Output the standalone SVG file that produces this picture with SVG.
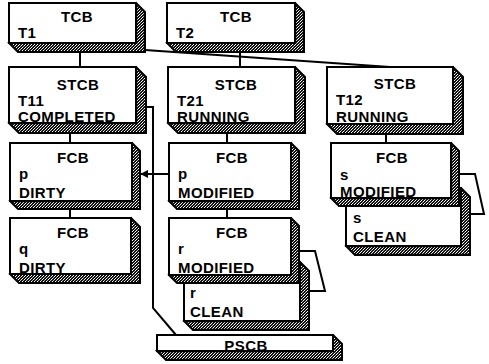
<svg xmlns="http://www.w3.org/2000/svg" width="489" height="364" viewBox="0 0 489 364">
<style>
.face{fill:#fff;stroke:#000;stroke-width:2}
.shade{fill:url(#dots);stroke:#000;stroke-width:2;stroke-linejoin:miter}
text{font-family:"Liberation Sans",Arial,sans-serif;font-weight:bold;font-size:15px;letter-spacing:0.4px;fill:#000}
.t{text-anchor:middle}
.c{fill:none;stroke:#000;stroke-width:2}
</style>
<defs>
<pattern id="dots" width="3" height="3" patternUnits="userSpaceOnUse">
<rect width="3" height="3" fill="#111"/>
<rect x="0" y="0" width="1" height="1" fill="#fff"/>
<rect x="2" y="1" width="1" height="1" fill="#bbb"/>
<rect x="1" y="2" width="1" height="1" fill="#fff"/>
</pattern>
<marker id="ah" viewBox="0 0 10 10" refX="9" refY="5" markerWidth="4" markerHeight="4" orient="auto" markerUnits="strokeWidth">
<path d="M0,0 L10,5 L0,10 z" fill="#000"/>
</marker>
</defs>

<g id="tcb-t1">
<polygon class="shade" points="136,3 145,12 145,52 18,52 9,43"/>
<rect class="face" x="9" y="3" width="127" height="40"/>
<text class="t" x="77" y="22">TCB</text>
<text x="18" y="38">T1</text>
</g>
<g id="tcb-t2">
<polygon class="shade" points="295,3 304,12 304,52 176,52 167,43"/>
<rect class="face" x="167" y="3" width="128" height="40"/>
<text class="t" x="236" y="22">TCB</text>
<text x="176" y="38">T2</text>
</g>
<g id="stcb-t11">
<polygon class="shade" points="136,67 146,77 146,133 19,133 9,123"/>
<rect class="face" x="9" y="67" width="127" height="56"/>
<text class="t" x="78" y="90">STCB</text>
<text x="18" y="106">T11</text>
<text x="18" y="122">COMPLETED</text>
</g>
<g id="stcb-t21">
<polygon class="shade" points="295,67 305,77 305,133 178,133 168,123"/>
<rect class="face" x="168" y="67" width="127" height="56"/>
<text class="t" x="236" y="90">STCB</text>
<text x="177" y="106">T21</text>
<text x="177" y="122">RUNNING</text>
</g>
<g id="stcb-t12">
<polygon class="shade" points="453,67 463,77 463,134 337,134 327,124"/>
<rect class="face" x="327" y="67" width="126" height="57"/>
<text class="t" x="395" y="89">STCB</text>
<text x="336" y="105">T12</text>
<text x="336" y="122">RUNNING</text>
</g>
<g id="fcb-p-dirty">
<polygon class="shade" points="132,143 140,151 140,209 18,209 10,201"/>
<rect class="face" x="10" y="143" width="122" height="58"/>
<text class="t" x="73" y="163">FCB</text>
<text x="19" y="179">p</text>
<text x="19" y="198">DIRTY</text>
</g>
<g id="fcb-p-modified">
<polygon class="shade" points="291,143 299,151 299,209 177,209 169,201"/>
<rect class="face" x="169" y="143" width="122" height="58"/>
<text class="t" x="232" y="163">FCB</text>
<text x="178" y="179">p</text>
<text x="178" y="198">MODIFIED</text>
</g>
<g id="s-clean">
<polygon class="shade" points="461,188 470,197 470,255 355,255 346,246"/>
<rect class="face" x="346" y="188" width="115" height="58"/>
<text x="353" y="223">s</text>
<text x="353" y="242">CLEAN</text>
</g>
<g id="fcb-s-modified">
<polygon class="shade" points="451,143 459,151 459,206 339,206 331,198"/>
<rect class="face" x="331" y="143" width="120" height="55"/>
<text class="t" x="392" y="163">FCB</text>
<text x="340" y="180">s</text>
<text x="340" y="197">MODIFIED</text>
</g>
<g id="fcb-q-dirty">
<polygon class="shade" points="131,218 140,227 140,283 19,283 10,274"/>
<rect class="face" x="10" y="218" width="121" height="56"/>
<text class="t" x="73" y="238">FCB</text>
<text x="19" y="254">q</text>
<text x="19" y="273">DIRTY</text>
</g>
<g id="r-clean">
<polygon class="shade" points="300,262 309,271 309,330 193,330 184,321"/>
<rect class="face" x="184" y="262" width="116" height="59"/>
<text x="190" y="298">r</text>
<text x="190" y="317">CLEAN</text>
</g>
<g id="fcb-r-modified">
<polygon class="shade" points="291,218 299,226 299,283 177,283 169,275"/>
<rect class="face" x="169" y="218" width="122" height="57"/>
<text class="t" x="232" y="238">FCB</text>
<text x="178" y="254">r</text>
<text x="178" y="273">MODIFIED</text>
</g>
<g id="pscb">
<polygon class="shade" points="333,335 342,344 342,360 166,360 157,351"/>
<rect class="face" x="157" y="335" width="176" height="16"/>
<text class="t" x="246" y="351">PSCB</text>
</g>

<g id="connectors">
<line class="c" x1="80" y1="52" x2="80" y2="67"/>
<line class="c" x1="145" y1="50" x2="390" y2="67"/>
<line class="c" x1="240" y1="52" x2="240" y2="67"/>
<line class="c" x1="70" y1="133" x2="70" y2="143"/>
<line class="c" x1="70" y1="209" x2="70" y2="218"/>
<line class="c" x1="227" y1="133" x2="227" y2="143"/>
<line class="c" x1="227" y1="209" x2="227" y2="218"/>
<line class="c" x1="386" y1="134" x2="386" y2="143"/>
<line class="c" x1="169" y1="174" x2="141" y2="174" marker-end="url(#ah)"/>
<polyline class="c" points="146,107 153,107 153,308 176,335"/>
<polyline class="c" points="459,174 475,174 484,214 470,214"/>
<polyline class="c" points="299,251 315,251 325,291 309,291"/>
</g>
</svg>
